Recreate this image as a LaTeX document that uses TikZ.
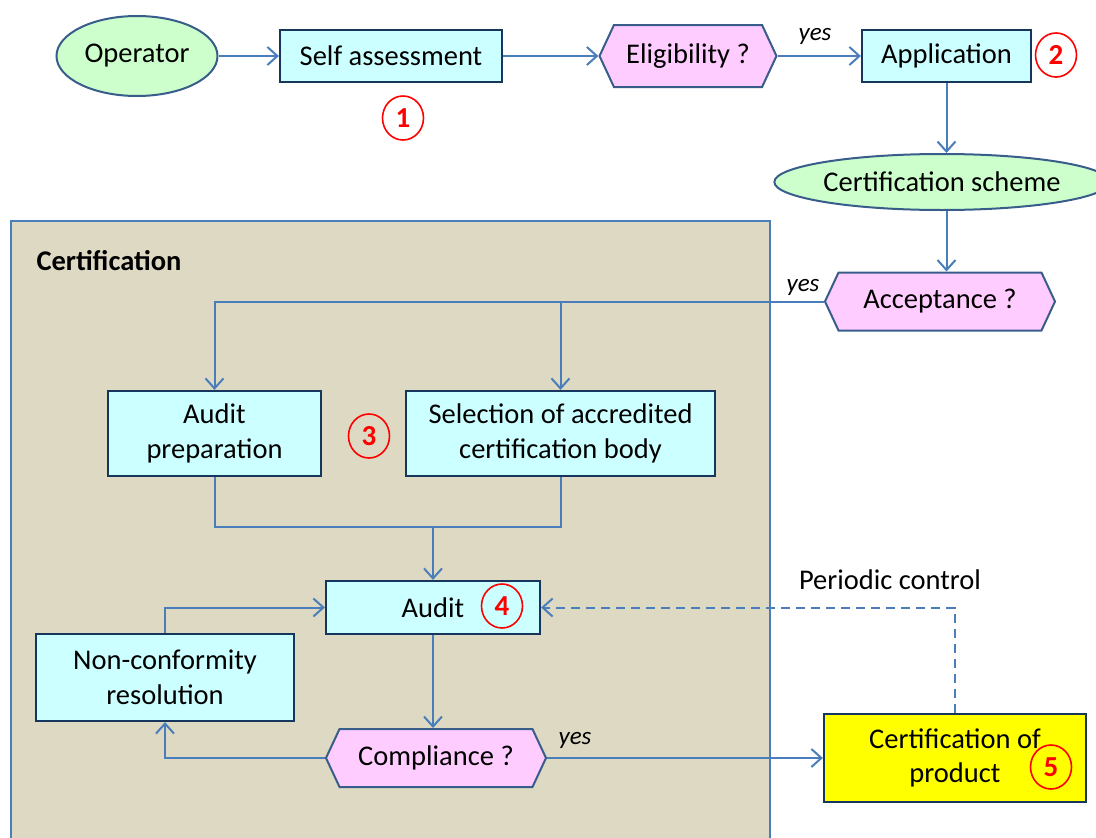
\documentclass[tikz,border=0pt]{standalone}
\usepackage{fontspec}
\setmainfont{Carlito}
\usetikzlibrary{shapes.geometric,shapes.symbols,arrows.meta}
\definecolor{boxfill}{HTML}{CCFFFF}
\definecolor{boxline}{HTML}{17365D}
\definecolor{ellfill}{HTML}{CCFFCC}
\definecolor{ellline}{HTML}{385D8A}
\definecolor{hexfill}{HTML}{FFCCFF}
\definecolor{arrcol}{HTML}{4A7EBB}
\definecolor{certfill}{HTML}{DDD9C3}
\definecolor{prodfill}{HTML}{FFFF00}
\begin{document}
\begin{tikzpicture}[x=1pt,y=-1pt,
  font=\fontsize{28.5}{34.5}\selectfont,
  box/.style={rectangle, draw=boxline, line width=2.2pt, fill=boxfill, inner sep=0pt, align=center},
  ell/.style={ellipse, draw=ellline, line width=2pt, fill=ellfill, inner sep=0pt},
  hex/.style={signal, signal to=west and east, signal pointer angle=130, draw=ellline, line width=2pt, fill=hexfill, inner sep=0pt},
  num/.style={ellipse, draw=red, line width=1.6pt, text=red, font=\fontsize{29}{32}\selectfont\bfseries, minimum width=41pt, minimum height=44pt, inner sep=0pt},
  arr/.style={draw=arrcol, line width=2pt, -{Straight Barb[length=10pt,width=18pt,line width=2pt]}},
  ln/.style={draw=arrcol, line width=2pt},
  yesl/.style={font=\fontsize{25}{30}\selectfont\itshape}
]
\useasboundingbox (0,0) rectangle (1096,838);
% certification area
\node[rectangle, draw=arrcol, line width=2pt, fill=certfill, minimum width=759pt, minimum height=630pt, inner sep=0pt, anchor=north west] (certarea) at (10,220) {};
\node[anchor=west, font=\fontsize{28.5}{34.5}\selectfont\bfseries] (certlabel) at (33,261) {Certification};

% top row
\node[ell, minimum width=161pt, minimum height=80pt] (op) at (137,56) {Operator};
\node[box, minimum width=222pt, minimum height=52pt] (self) at (391,56) {Self assessment};
\node[num] (c1) at (403,118) {1};
\node[hex, minimum width=177pt, minimum height=62pt] (elig) at (688,56) {Eligibility ?};
\node[yesl] (yes1) at (815,36) {yes};
\node[box, minimum width=169pt, minimum height=52pt] (app) at (946.5,56) {Application};
\node[num] (c2) at (1056,55) {2};
\node[ell, minimum width=308pt, minimum height=56pt] (scheme) at (942,182) {Certification scheme};
\node[hex, minimum width=230pt, minimum height=58pt] (accept) at (940,301.5) {Acceptance ?};
\node[yesl] (yes2) at (803,287) {yes};

% certification contents
\node[box, minimum width=213pt, minimum height=85pt] (prep) at (214.5,433.5) {Audit\\preparation};
\node[num] (c3) at (369,436) {3};
\node[box, minimum width=309pt, minimum height=85pt] (sel) at (560.5,433.5) {Selection of accredited\\certification body};
\node[box, minimum width=214pt, minimum height=53pt] (audit) at (433,607.5) {Audit};
\node[num] (c4) at (502,606) {4};
\node[box, minimum width=258pt, minimum height=87pt] (nc) at (165,677.5) {Non-conformity\\resolution};
\node[hex, minimum width=220pt, minimum height=58pt] (comp) at (436,758) {Compliance ?};
\node[yesl] (yes3) at (575,740) {yes};
\node[box, fill=prodfill, minimum width=262pt, minimum height=88pt] (prod) at (955,758) {Certification of\\product};
\node[num] (c5) at (1051,767) {5};
\node (periodic) at (890,580) {Periodic control};

\coordinate (jn) at (433,527);

% connectors
\draw[arr] (op.east) -- (self.west);
\draw[arr] (self.east) -- (elig.west);
\draw[arr] (elig.east) -- (app.west);
\draw[arr] (app.south) -- (app.south |- scheme.north);
\draw[arr] (app.south |- scheme.south) -- (app.south |- accept.north);
\draw[arr] (accept.west) -| (prep.north);
\draw[arr] (sel.north |- accept.west) -- (sel.north);
\draw[ln] (prep.south) |- (jn) -| (sel.south);
\draw[arr] (jn) -- (audit.north);
\draw[arr] (nc.north) |- (audit.west);
\draw[arr] (audit.south) -- (audit.south |- comp.north);
\draw[arr] (comp.west) -| (nc.south);
\draw[arr] (comp.east) -- (prod.west);
\draw[arr, dash pattern=on 9pt off 6pt] (prod.north) |- (audit.east);
\end{tikzpicture}
\end{document}
